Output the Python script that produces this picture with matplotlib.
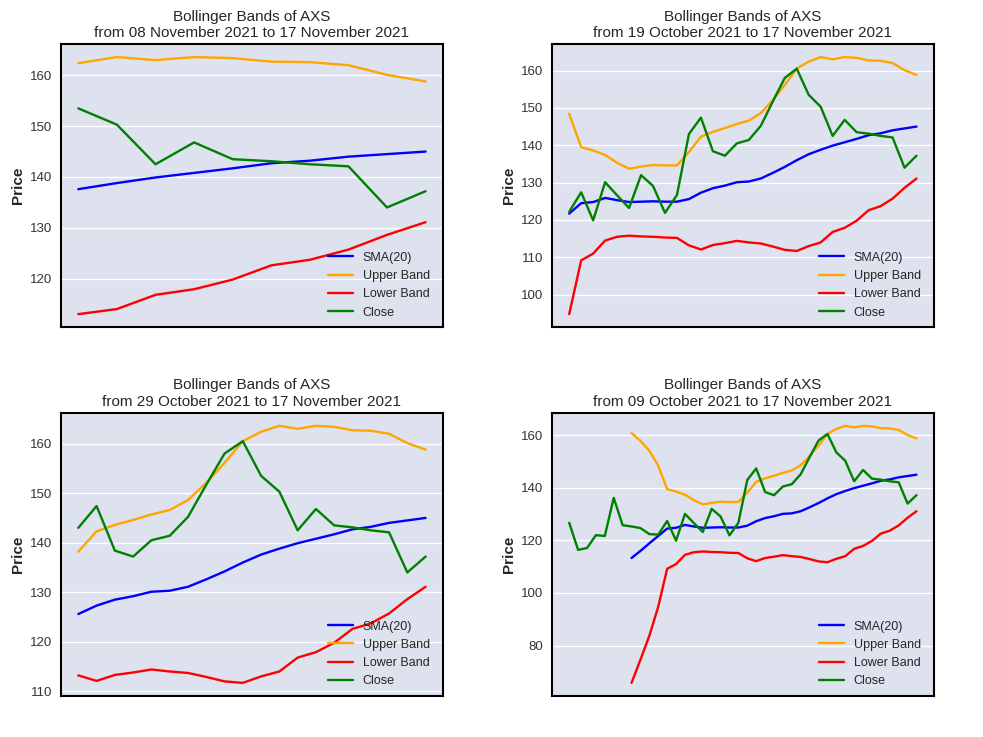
import numpy as np
import pandas as pd
import matplotlib
matplotlib.use('Agg')
import matplotlib.pyplot as plt

plt.style.use('seaborn-v0_8-darkgrid')
plt.rcParams['font.family'] = ['Liberation Sans', 'DejaVu Sans']

nan = np.nan
dates = pd.date_range('2021-10-09', '2021-11-17', freq='D')

close = [126.7, 116.4, 117.1, 122.0, 121.7, 136.2, 125.8, 125.3, 124.7, 122.4,
         122.2, 127.4, 119.9, 130.1, 126.6, 123.2, 132.0, 129.1, 121.9, 126.7,
         143.0, 147.4, 138.4, 137.2, 140.5, 141.4, 145.2, 151.7, 158.0, 160.5,
         153.5, 150.3, 142.5, 146.8, 143.5, 143.1, 142.5, 142.1, 134.0, 137.2]
sma = [nan, nan, nan, nan, nan, nan, nan, 113.3, 116.0, 118.9,
       121.7, 124.5, 124.8, 125.9, 125.3, 124.8, 124.9, 125.0, 124.9, 124.9,
       125.6, 127.3, 128.5, 129.2, 130.1, 130.3, 131.1, 132.6, 134.2, 136.0,
       137.6, 138.8, 139.9, 140.8, 141.7, 142.7, 143.2, 144.0, 144.5, 145.0]
upper = [nan, nan, nan, nan, nan, nan, nan, 160.8, 157.9, 154.1,
         148.4, 139.5, 138.6, 137.4, 135.3, 133.7, 134.3, 134.7, 134.6, 134.6,
         138.2, 142.3, 143.6, 144.6, 145.7, 146.6, 148.6, 152.1, 156.1, 160.5,
         162.4, 163.6, 163.0, 163.6, 163.4, 162.7, 162.6, 162.0, 160.1, 158.8]
lower = [nan, nan, nan, nan, nan, nan, nan, 65.8, 74.6, 83.7,
         94.8, 109.2, 111.0, 114.5, 115.5, 115.8, 115.6, 115.5, 115.3, 115.2,
         113.2, 112.1, 113.3, 113.8, 114.4, 114.0, 113.7, 112.9, 112.0, 111.7,
         113.0, 114.0, 116.8, 117.9, 119.8, 122.6, 123.7, 125.7, 128.6, 131.1]

df = pd.DataFrame({'Close': close, 'SMA': sma, 'Upper': upper, 'Lower': lower}, index=dates)

# number of days shown in each panel (row by row)
windows = [10, 30, 20, 40]

fig, axes = plt.subplots(2, 2, figsize=(9.83, 7.37), dpi=100)
fig.patch.set_facecolor('white')
fig.subplots_adjust(left=0.062, right=0.950, top=0.940, bottom=0.056,
                    wspace=0.285, hspace=0.304)

for ax, n in zip(axes.flat, windows):
    d = df.iloc[-n:]
    ax.set_facecolor('#dde2ee')
    ax.plot(d.index, d['SMA'], color='blue', lw=1.7, label='SMA(20)')
    ax.plot(d.index, d['Upper'], color='orange', lw=1.7, label='Upper Band')
    ax.plot(d.index, d['Lower'], color='red', lw=1.7, label='Lower Band')
    ax.plot(d.index, d['Close'], color='green', lw=1.7, label='Close')
    ax.set_title('Bollinger Bands of AXS\nfrom %s to %s'
                 % (d.index[0].strftime('%d %B %Y'), d.index[-1].strftime('%d %B %Y')),
                 fontsize=11, color='#262626', linespacing=1.25, pad=5)
    ax.set_ylabel('Price', fontsize=11, fontweight='bold', color='#262626')
    ax.set_xticks([])
    ax.grid(axis='y', color='white', lw=1.0)
    ax.grid(axis='x', visible=False)
    ax.tick_params(axis='y', labelsize=9.5, labelcolor='#333333', length=0, pad=6)
    for s in ax.spines.values():
        s.set_visible(True)
        s.set_color('black')
        s.set_linewidth(1.5)
    ax.legend(loc='lower right', frameon=False, fontsize=9,
              bbox_to_anchor=(0.995, -0.01))

plt.savefig('out.png', dpi=100)
